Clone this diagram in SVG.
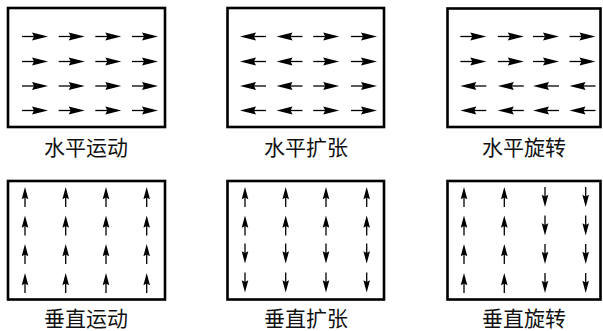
<svg xmlns="http://www.w3.org/2000/svg" xmlns:xlink="http://www.w3.org/1999/xlink" width="603" height="331" viewBox="0 0 603 331">
<style>
.box{fill:none;stroke:#000;stroke-width:2.6}
.lbl{font-family:"Noto Sans CJK SC","Noto Sans CJK JP",sans-serif;font-size:21px;fill:#111;text-anchor:middle}
</style>
<defs>
<g id="ah">
<line x1="-13" y1="0" x2="0" y2="0" stroke="#000" stroke-width="1.3"/>
<polygon points="13,0 -3,-4 -1,0 -3,4" fill="#000"/>
</g>
<g id="av">
<line x1="0" y1="10" x2="0" y2="-1" stroke="#000" stroke-width="1.3"/>
<polygon points="0,-10 -3.3,2.2 0,0.5 3.3,2.2" fill="#000"/>
</g>
</defs>
<rect width="603" height="331" fill="#fff"/>

<g id="n1">
<rect class="box" x="8" y="8" width="157" height="119"/>
<use xlink:href="#ah" x="35" y="36.5"/><use xlink:href="#ah" x="71.7" y="36.5"/><use xlink:href="#ah" x="108.3" y="36.5"/><use xlink:href="#ah" x="145" y="36.5"/>
<use xlink:href="#ah" x="35" y="61.5"/><use xlink:href="#ah" x="71.7" y="61.5"/><use xlink:href="#ah" x="108.3" y="61.5"/><use xlink:href="#ah" x="145" y="61.5"/>
<use xlink:href="#ah" x="35" y="86"/><use xlink:href="#ah" x="71.7" y="86"/><use xlink:href="#ah" x="108.3" y="86"/><use xlink:href="#ah" x="145" y="86"/>
<use xlink:href="#ah" x="35" y="110.5"/><use xlink:href="#ah" x="71.7" y="110.5"/><use xlink:href="#ah" x="108.3" y="110.5"/><use xlink:href="#ah" x="145" y="110.5"/>
<text class="lbl" x="86" y="155">水平运动</text>
</g>

<g id="n2">
<rect class="box" x="227.5" y="8" width="156.5" height="119"/>
<g transform="translate(253,36.5) rotate(180)"><use xlink:href="#ah"/></g>
<g transform="translate(289.5,36.5) rotate(180)"><use xlink:href="#ah"/></g>
<use xlink:href="#ah" x="326.2" y="36.5"/><use xlink:href="#ah" x="364" y="36.5"/>
<g transform="translate(253,61.5) rotate(180)"><use xlink:href="#ah"/></g>
<g transform="translate(289.5,61.5) rotate(180)"><use xlink:href="#ah"/></g>
<use xlink:href="#ah" x="326.2" y="61.5"/><use xlink:href="#ah" x="364" y="61.5"/>
<g transform="translate(253,86) rotate(180)"><use xlink:href="#ah"/></g>
<g transform="translate(289.5,86) rotate(180)"><use xlink:href="#ah"/></g>
<use xlink:href="#ah" x="326.2" y="86"/><use xlink:href="#ah" x="364" y="86"/>
<g transform="translate(253,110.5) rotate(180)"><use xlink:href="#ah"/></g>
<g transform="translate(289.5,110.5) rotate(180)"><use xlink:href="#ah"/></g>
<use xlink:href="#ah" x="326.2" y="110.5"/><use xlink:href="#ah" x="364" y="110.5"/>
<text class="lbl" x="306" y="155">水平扩张</text>
</g>

<g id="n3">
<rect class="box" x="447.5" y="8.5" width="153" height="118.5"/>
<use xlink:href="#ah" x="473.3" y="36.5"/><use xlink:href="#ah" x="510.8" y="36.5"/><use xlink:href="#ah" x="546" y="36.5"/><use xlink:href="#ah" x="582.5" y="36.5"/>
<use xlink:href="#ah" x="473.3" y="61.5"/><use xlink:href="#ah" x="510.8" y="61.5"/><use xlink:href="#ah" x="546" y="61.5"/><use xlink:href="#ah" x="582.5" y="61.5"/>
<g transform="translate(473.3,86) rotate(180)"><use xlink:href="#ah"/></g>
<g transform="translate(510.8,86) rotate(180)"><use xlink:href="#ah"/></g>
<g transform="translate(546,86) rotate(180)"><use xlink:href="#ah"/></g>
<g transform="translate(582.5,86) rotate(180)"><use xlink:href="#ah"/></g>
<g transform="translate(473.3,110.5) rotate(180)"><use xlink:href="#ah"/></g>
<g transform="translate(510.8,110.5) rotate(180)"><use xlink:href="#ah"/></g>
<g transform="translate(546,110.5) rotate(180)"><use xlink:href="#ah"/></g>
<g transform="translate(582.5,110.5) rotate(180)"><use xlink:href="#ah"/></g>
<text class="lbl" x="524" y="155">水平旋转</text>
</g>

<g id="n4">
<rect class="box" x="8" y="181" width="157" height="118.5"/>
<use xlink:href="#av" x="25" y="197"/><use xlink:href="#av" x="65.7" y="197"/><use xlink:href="#av" x="106" y="197"/><use xlink:href="#av" x="146.7" y="197"/>
<use xlink:href="#av" x="25" y="225.5"/><use xlink:href="#av" x="65.7" y="225.5"/><use xlink:href="#av" x="106" y="225.5"/><use xlink:href="#av" x="146.7" y="225.5"/>
<use xlink:href="#av" x="25" y="254"/><use xlink:href="#av" x="65.7" y="254"/><use xlink:href="#av" x="106" y="254"/><use xlink:href="#av" x="146.7" y="254"/>
<use xlink:href="#av" x="25" y="283"/><use xlink:href="#av" x="65.7" y="283"/><use xlink:href="#av" x="106" y="283"/><use xlink:href="#av" x="146.7" y="283"/>
<text class="lbl" x="86" y="326">垂直运动</text>
</g>

<g id="n5">
<rect class="box" x="227.5" y="181" width="156.5" height="118.5"/>
<use xlink:href="#av" x="245" y="197"/><use xlink:href="#av" x="285.7" y="197"/><use xlink:href="#av" x="326" y="197"/><use xlink:href="#av" x="366.7" y="197"/>
<use xlink:href="#av" x="245" y="225.5"/><use xlink:href="#av" x="285.7" y="225.5"/><use xlink:href="#av" x="326" y="225.5"/><use xlink:href="#av" x="366.7" y="225.5"/>
<g transform="translate(245,253.5) rotate(180)"><use xlink:href="#av"/></g>
<g transform="translate(285.7,253.5) rotate(180)"><use xlink:href="#av"/></g>
<g transform="translate(326,253.5) rotate(180)"><use xlink:href="#av"/></g>
<g transform="translate(366.7,253.5) rotate(180)"><use xlink:href="#av"/></g>
<g transform="translate(245,282.5) rotate(180)"><use xlink:href="#av"/></g>
<g transform="translate(285.7,282.5) rotate(180)"><use xlink:href="#av"/></g>
<g transform="translate(326,282.5) rotate(180)"><use xlink:href="#av"/></g>
<g transform="translate(366.7,282.5) rotate(180)"><use xlink:href="#av"/></g>
<text class="lbl" x="306" y="326">垂直扩张</text>
</g>

<g id="n6">
<rect class="box" x="447.5" y="181" width="153" height="118.5"/>
<use xlink:href="#av" x="464" y="197"/><use xlink:href="#av" x="504.3" y="197"/>
<use xlink:href="#av" x="464" y="225.5"/><use xlink:href="#av" x="504.3" y="225.5"/>
<use xlink:href="#av" x="464" y="254"/><use xlink:href="#av" x="504.3" y="254"/>
<use xlink:href="#av" x="464" y="283"/><use xlink:href="#av" x="504.3" y="283"/>
<g transform="translate(545,197) rotate(180)"><use xlink:href="#av"/></g>
<g transform="translate(585.7,197) rotate(180)"><use xlink:href="#av"/></g>
<g transform="translate(545,225.5) rotate(180)"><use xlink:href="#av"/></g>
<g transform="translate(585.7,225.5) rotate(180)"><use xlink:href="#av"/></g>
<g transform="translate(545,254) rotate(180)"><use xlink:href="#av"/></g>
<g transform="translate(585.7,254) rotate(180)"><use xlink:href="#av"/></g>
<g transform="translate(545,283) rotate(180)"><use xlink:href="#av"/></g>
<g transform="translate(585.7,283) rotate(180)"><use xlink:href="#av"/></g>
<text class="lbl" x="524" y="326">垂直旋转</text>
</g>

<g id="connectors"></g>
</svg>
